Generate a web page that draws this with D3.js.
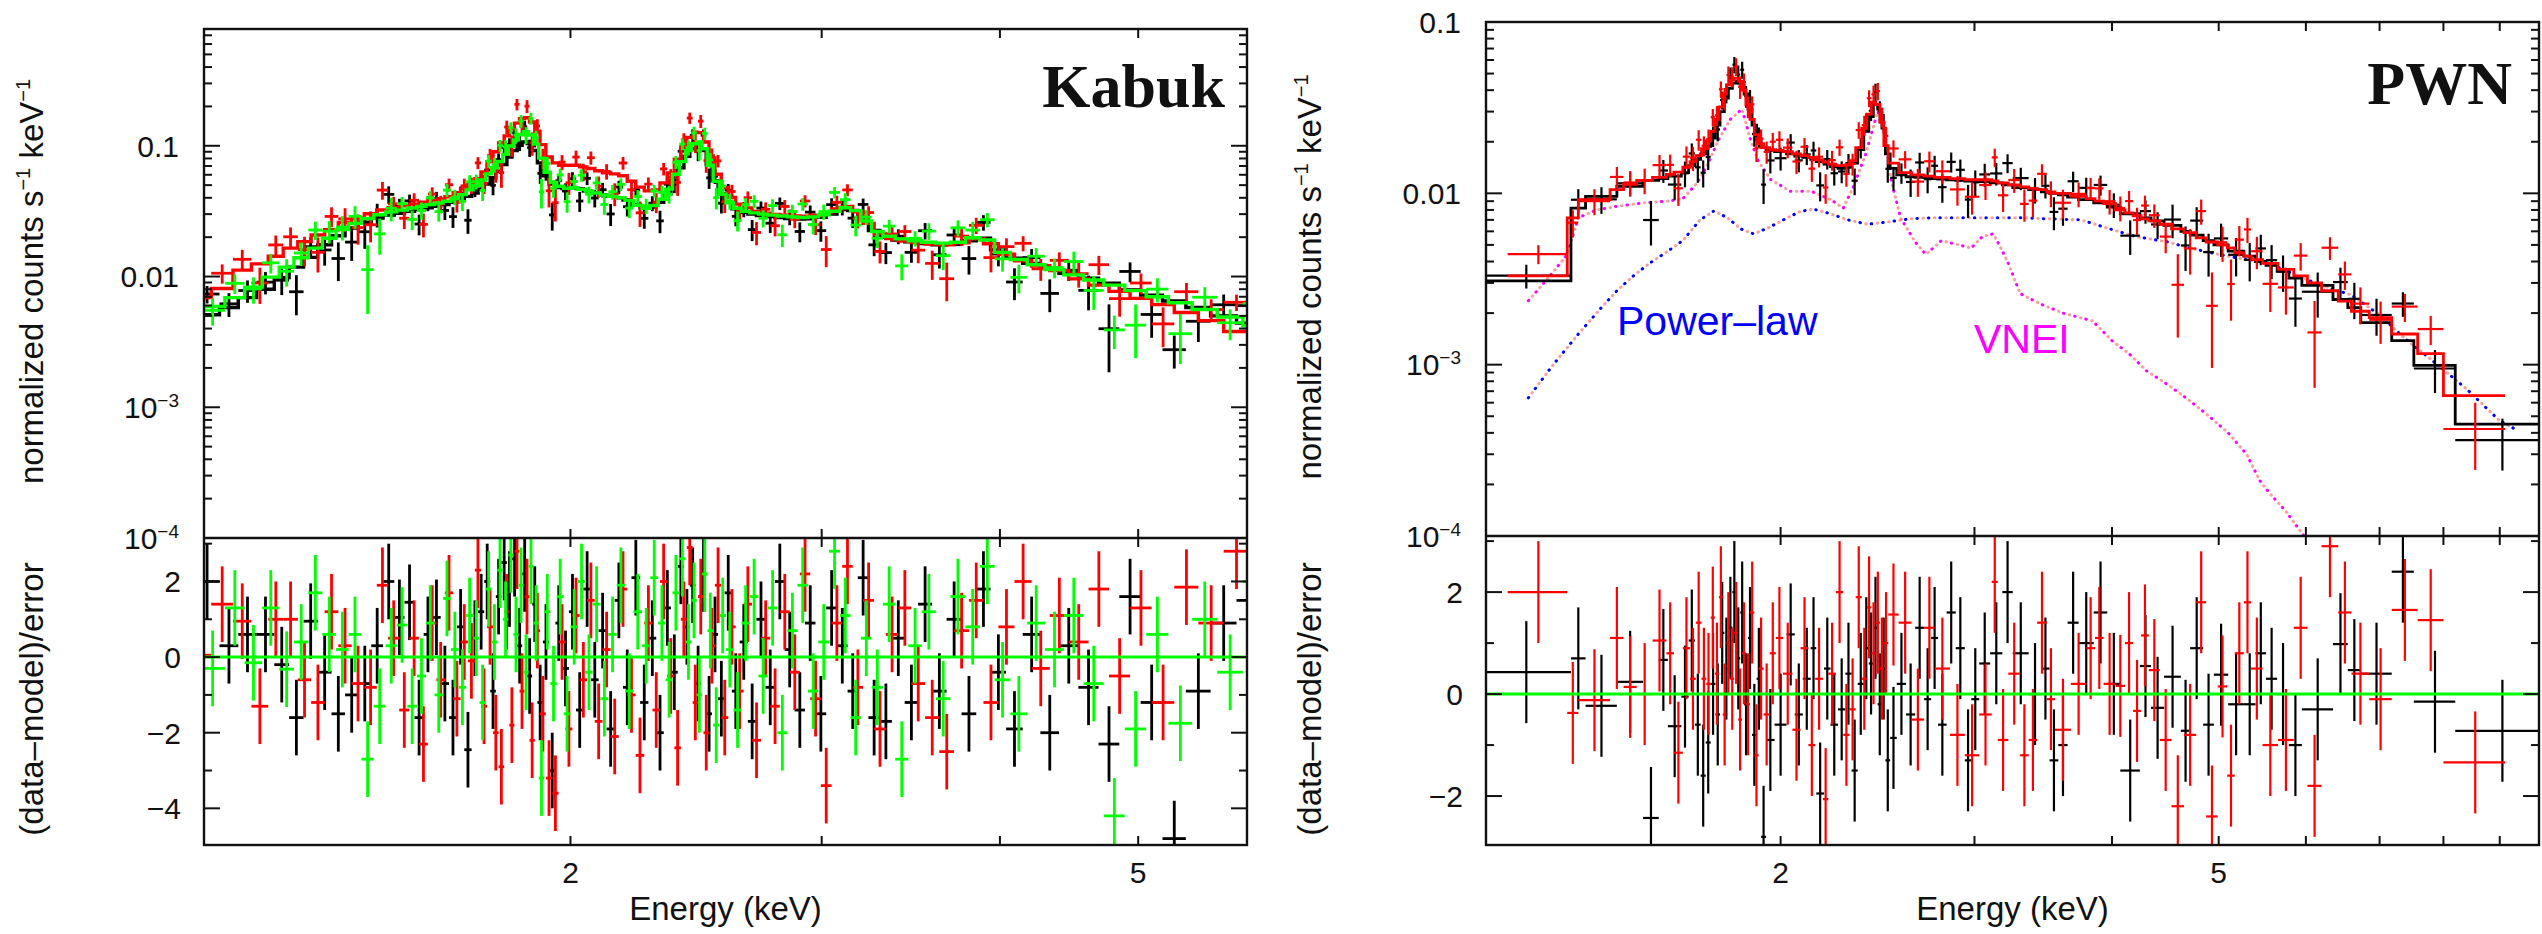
<!DOCTYPE html>
<html>
<head>
<meta charset="utf-8">
<script src="https://cdn.jsdelivr.net/npm/d3@7"></script>
<style>
  body { margin: 0; background: #fff; }
  svg { display: block; }
  text { font-family: "Liberation Sans", Arial, Helvetica, sans-serif; fill: #111; }
</style>
</head>
<body>
<svg id="chart" width="2542" height="934"></svg>
<script>
// ---- data: rows are [bin low edge keV, model (1e-3 counts/s/keV), (data-model)/error, optional rel. error]
const kabukBlack = [
  [1.090,5.1,2.0],[1.135,5.8,0.3],[1.170,6.9,0.6],[1.205,8.0,0.6],[1.240,9.8,-0.2],[1.270,11.8,-1.6],
  [1.300,14.0,0.95],[1.330,17.5,-0.4],[1.360,20.5,-1.5],[1.390,23.5,-1.0],[1.420,26.0,-0.7],[1.450,28.0,0.3],
  [1.478,29.5,2.0],[1.505,30.5,1.05],[1.530,31.5,1.45],[1.555,32.5,-1.6],[1.578,33.5,0.6],[1.600,34.5,1.05],
  [1.622,35.5,-0.7],[1.644,37.0,-1.6],[1.665,39.0,0.8],[1.685,41.0,-2.45],[1.705,43.5,0.5],[1.723,46.5,1.2],
  [1.740,51,2.0],[1.757,57,-0.9],[1.773,64,1.6],[1.789,72,2.5],[1.805,82,1.8],[1.820,92,2.6],
  [1.835,101,0.3],[1.850,107,2.2],[1.865,104,-0.5],[1.880,92,1.4],[1.896,74,-1.2],[1.913,59,0.4],
  [1.932,51,-3.0],[1.952,48,0.9],[1.973,47,-0.3],[1.995,48,1.2],[2.018,47,-1.4],[2.042,45,1.8],
  [2.067,43.5,-0.6],[2.093,42,0.7],[2.120,41,-1.9],[2.148,40,1.5],[2.177,38.5,-0.8],[2.207,35.5,2.1],
  [2.238,33.5,-1.2],[2.268,34,0.5],[2.297,37,-2.0],[2.325,43,1.3],[2.352,54,-0.4],[2.378,68,2.4],
  [2.402,83,0.8],[2.425,95,1.9],[2.447,100,-0.7],[2.468,92,2.2],[2.490,72,-1.5],[2.513,54,0.6],
  [2.538,43,-1.1],[2.565,37,1.7],[2.595,33,-0.9],[2.628,31,0.4],[2.663,30,-1.7],[2.700,29.3,1.0],
  [2.740,28.8,-0.8],[2.782,28.3,2.0],[2.826,27.8,0.2],[2.872,27.5,-1.4],[2.920,27.6,0.9],[2.970,28.4,-1.5],
  [3.022,30,1.3],[3.075,32.5,0.3],[3.128,32,-0.9],[3.180,27.5,2.1],[3.235,22.5,-1.6],[3.295,20,-1.7],
  [3.360,19,0.5],[3.430,18.4,-1.2],[3.505,17.9,1.4],[3.585,17.5,-0.9],[3.670,17.6,1.0],[3.760,18.8,-1.5],
  [3.850,19.6,1.8],[3.940,16,-0.4],[4.040,13.8,-1.9],[4.150,12.6,0.6],[4.270,11.6,-2.0],[4.400,10.6,0.3],
  [4.540,9.7,-0.8],[4.690,8.9,-2.3],[4.850,7.9,1.6],[5.020,7.2,-1.2],[5.200,6.5,-4.8,0.12],[5.400,5.8,-0.9],
  [5.620,5.0,0.9],[5.860,4.4,1.5]
];
const kabukBlackEnd = 6.10;

const kabukRed = [
  [1.080,6.9,0.05],[1.120,8.1,1.4],[1.160,11.2,0.95],[1.195,12.5,-1.3],[1.228,14.3,1.0],[1.258,16.5,1.0],
  [1.288,18.5,-0.6],[1.316,20.8,-1.2],[1.345,22.8,1.2],[1.375,25.9,0.3],[1.405,28,-0.7],[1.434,30.2,-0.8],
  [1.463,32.3,1.9],[1.490,33.6,0.5],[1.517,34.7,-1.4],[1.542,35.8,0.5],[1.566,37,-2.3],[1.589,38,0.9],
  [1.611,39.2,-0.6],[1.633,40.7,1.7],[1.655,43.7,-1.1],[1.675,46.8,0.4],[1.695,50.6,-0.1],[1.714,56,2.3],
  [1.731,63,-1.3],[1.748,75.6,0.8],[1.765,90,-2.0],[1.781,105,-2.9],[1.797,119,1.2],[1.812,135,-1.8],
  [1.827,149,2.8],[1.842,161,-0.9],[1.857,164,1.6],[1.872,152,-2.2],[1.888,129,0.7],[1.904,102,-1.5],
  [1.922,82,-3.2],[1.942,74,-3.6],[1.962,71,0.4],[1.984,71,-1.9],[2.006,71,1.1],[2.030,69,-0.6],
  [2.054,67,1.5],[2.080,64.5,-1.7],[2.106,62,0.2],[2.134,61,-2.1],[2.162,59,1.8],[2.192,53.6,-1.0],
  [2.222,48.3,-2.6],[2.253,45.2,0.9],[2.283,46,-1.4],[2.311,52,2.0],[2.338,62,-0.5],[2.365,79,-2.4],
  [2.390,97.5,1.0],[2.413,116,2.9],[2.436,127,-1.2],[2.457,126,1.6],[2.479,107,-2.0],[2.501,80.6,0.3],
  [2.525,60.6,1.9],[2.551,48,-1.6],[2.580,40.2,0.8],[2.611,35.8,-0.9],[2.645,33.5,1.4],[2.681,31.4,-2.2],
  [2.720,30.5,0.5],[2.761,29.9,-1.3],[2.804,29.4,1.2],[2.849,29.1,-0.4],[2.896,28.9,2.2],[2.945,29.4,-1.1],
  [2.996,30.7,-3.4],[3.048,32.8,0.9],[3.101,34.4,2.4],[3.154,31.2,-0.8],[3.207,25.5,1.5],[3.265,21.2,-1.9],
  [3.327,19.5,0.6],[3.395,18.7,1.3],[3.467,18.2,-0.7],[3.545,17.7,-1.6],[3.627,17.5,-2.5],[3.715,18.1,0.7],
  [3.805,19.4,1.5],[3.895,17.8,-1.2],[3.990,14.8,0.8],[4.095,13.2,2.0],[4.210,12.1,-0.3],[4.335,11.1,1.1],
  [4.470,9.6,0.4],[4.615,8.6,1.8],[4.770,7.7,-0.5],[4.935,6.8,1.3],[5.110,6.1,-1.2],[5.300,5.3,1.85],
  [5.510,4.6,0.9],[5.740,3.8,2.8]
];
const kabukRedEnd = 5.98;

const kabukGreen = [
  [1.100,5.9,-0.3],[1.145,6.9,1.3],[1.182,8.3,-0.15],[1.216,9.9,1.3],[1.250,11.8,-0.32],[1.280,13.9,0.4],
  [1.310,16.5,1.7],[1.340,19.6,0.6],[1.370,22.9,0.2],[1.398,25.5,0.6],[1.427,27.8,-2.7],[1.456,29.7,-1.3],
  [1.484,31.2,0.3],[1.511,32.2,0.85],[1.537,33.4,-1.3],[1.561,34.4,-0.5],[1.584,35.5,0.9],[1.606,36.5,-1.0],
  [1.628,37.6,1.55],[1.649,39.4,0.2],[1.670,42.3,-0.8],[1.690,46,1.1],[1.709,49.8,0.5],[1.727,54.7,-1.2],
  [1.744,61,1.8],[1.761,67.9,0.4],[1.777,75.9,2.3],[1.793,86,1.0],[1.809,99.5,2.7],[1.824,111,0.6],
  [1.839,122,1.9],[1.854,128,-0.4],[1.869,121,2.4],[1.884,103,0.9],[1.900,80.5,-3.2],[1.917,62.7,1.2],
  [1.936,52.5,-0.7],[1.956,49,1.6],[1.978,47.3,-1.5],[2.000,47.8,0.8],[2.024,46.5,2.0],[2.048,45,-0.4],
  [2.073,43.5,1.4],[2.099,42,-1.1],[2.126,41,0.6],[2.155,40,1.9],[2.184,38.2,-0.9],[2.214,35,1.2],
  [2.245,33.3,0.3],[2.275,34.9,2.1],[2.304,39,0.9],[2.332,46.6,-0.6],[2.358,60.5,1.7],[2.384,75.6,2.6],
  [2.408,91.8,0.4],[2.431,103.7,1.5],[2.452,107,-1.0],[2.473,95,2.2],[2.495,71,0.7],[2.518,53.6,-1.8],
  [2.543,42.6,1.1],[2.571,36.6,0.2],[2.602,33.3,-1.4],[2.636,31.5,0.9],[2.671,30.7,1.6],[2.709,30,-0.5],
  [2.750,29.5,1.3],[2.793,29,-2.0],[2.838,28.6,0.7],[2.885,28.3,1.9],[2.934,28.6,-0.9],[2.984,29.7,0.4],
  [3.036,31.6,2.8],[3.090,33.6,1.1],[3.143,31.9,-1.6],[3.196,26.6,0.5],[3.252,22.1,-0.8],[3.312,20.3,1.4],
  [3.378,19.4,-2.7],[3.450,18.8,0.3],[3.526,18.3,1.2],[3.607,18,-1.1],[3.693,18.3,1.6],[3.783,19.8,0.8],
  [3.873,19,2.4],[3.966,15.3,-0.6],[4.068,13.5,-1.5],[4.180,12.3,0.9],[4.302,11.3,0.2],[4.435,10.3,1.1],
  [4.578,9.4,-0.7],[4.730,8.6,-4.2,0.13],[4.893,7.8,-1.9],[5.065,7.0,0.6],[5.250,6.3,-1.75],[5.455,5.6,1.0],
  [5.680,4.9,-0.4],[5.920,4.2,2.0]
];
const kabukGreenEnd = 6.15;

const pwnBlack = [
  [1.06,3.08,0.43],[1.29,8.2,0.7],[1.33,9.6,-0.23],[1.42,11.0,0.24],[1.50,11.9,-2.43],[1.55,12.2,0.67],
  [1.58,12.6,-0.63],[1.625,13.2,-0.05],[1.65,14.5,1.05],[1.672,15.8,-0.6],[1.692,17.0,-1.6],[1.71,18.8,-0.95],
  [1.728,21,0.2],[1.745,25,-0.4],[1.762,30,1.2],[1.778,36,0.5],[1.793,41,1.3],[1.808,44,2.0],
  [1.823,45,0.7],[1.838,43,1.6],[1.853,38,-0.2],[1.868,31,1.1],[1.884,25,-0.8],[1.902,20.5,0.3],
  [1.92,18.5,-2.8],[1.94,17.8,-0.9],[1.975,17.5,-0.6],[2.025,17.0,1.17],[2.06,16.5,-0.4],[2.095,16.2,0.3],
  [2.13,15.8,0.9],[2.155,15.3,-1.95],[2.19,14.8,0.5],[2.22,14.3,-0.6],[2.255,14.0,-0.3],[2.29,14.2,0.4],
  [2.32,15.0,-1.5],[2.35,18,0.2],[2.38,23,0.9],[2.405,28,0.6],[2.428,33,1.3],[2.45,31,-0.2],
  [2.472,24,0.5],[2.49,17,-1.3],[2.515,14,-0.86],[2.55,12.8,0.2],[2.60,12.5,-0.4],[2.65,12.4,1.3],
  [2.70,12.3,-0.1],[2.74,12.2,1.1],[2.78,12.1,-0.6],[2.83,12.0,1.6],[2.885,11.9,0.9],[2.94,11.8,-1.3],
  [2.98,11.8,-0.1],[3.03,11.7,0.6],[3.10,11.5,0.8],[3.18,11.2,2.0],[3.25,10.8,0.8],[3.36,10.5,0],
  [3.45,10.2,0.5],[3.51,10.0,-1.3],[3.575,9.8,-1.0],[3.645,9.5,1.4],[3.73,9.2,1.0],[3.85,8.8,1.6],
  [3.96,8.3,0.2],[4.07,7.6,-1.5],[4.24,7.2,0.55],[4.34,6.9,-0.27],[4.46,6.5,0.34],[4.62,6.0,-0.72],
  [4.71,5.7,0.9],[4.84,5.3,-0.6],[4.95,5.0,0.38],[5.10,4.6,-0.2],[5.27,4.3,-0.2],[5.40,4.0,0.8],
  [5.52,3.8,0.3],[5.65,3.5,0],[5.79,3.2,-1.0],[5.95,2.9,-0.3],[6.35,2.4,0.98],[6.55,2.15,0.47],
  [6.73,1.76,0.4],[7.18,1.38,2.4],[7.52,0.99,-0.15],[8.2,0.45,-0.72]
];
const pwnBlackEnd = 9.9;

const pwnRed = [
  [1.13,3.3,2.0],[1.28,7.2,-0.37],[1.31,9.2,-0.12],[1.40,10.5,1.1],[1.44,11.3,0.14],[1.48,11.9,0.0],
  [1.53,12.4,1.05],[1.575,12.9,0.8],[1.60,13.3,-1.15],[1.63,14.2,0.9],[1.655,15.3,0.3],[1.675,16.6,1.4],
  [1.695,18.2,0.3],[1.712,20.2,0.2],[1.728,23,1.5],[1.743,27,0.4],[1.758,32,1.9],[1.772,38,-0.4],
  [1.786,43,1.0],[1.80,46,0.3],[1.815,47,1.2],[1.83,45,-0.5],[1.845,40,0.8],[1.86,33,-0.2],
  [1.876,27,1.6],[1.893,22,-1.2],[1.91,19.5,0.5],[1.93,18.5,-0.4],[1.955,18,0.8],[1.98,17.8,1.1],
  [2.01,17.5,0.4],[2.05,17,-0.7],[2.085,16.6,0.9],[2.12,16.2,-1.0],[2.15,15.7,0.3],[2.185,15.2,-2.06],
  [2.21,14.8,0.4],[2.245,14.5,2.0],[2.28,14.6,-0.8],[2.31,15.5,-0.3],[2.34,18.5,1.9],[2.37,24,0.3],
  [2.395,29,1.7],[2.418,34,0.8],[2.44,33,1.4],[2.462,26,0.5],[2.482,19,1.0],[2.505,15,1.56],
  [2.56,13.2,1.4],[2.63,12.8,-0.5],[2.70,12.6,1.3],[2.76,12.4,0.5],[2.85,12.2,-0.8],[2.94,12.0,-1.2],
  [3.03,12.0,-0.4],[3.11,11.8,2.2],[3.15,11.5,-0.9],[3.22,11.2,0.4],[3.30,10.9,-1.2],[3.36,10.7,-0.9],
  [3.42,10.5,1.4],[3.49,10.2,-0.1],[3.55,10.0,-0.7],[3.67,9.6,0.2],[3.79,9.3,0.9],[3.86,9.0,1.1],
  [3.93,8.7,0.2],[4.03,8.0,0.16],[4.11,7.7,1.0],[4.18,7.4,-0.33],[4.25,7.1,1.15],[4.32,6.9,0.47],
  [4.42,6.6,-0.9],[4.53,6.2,-2.2],[4.65,5.9,-0.8],[4.77,5.5,1.8],[4.87,5.2,-2.4],[4.99,5.0,0.15],
  [5.09,4.8,-1.6],[5.17,4.5,0.8],[5.27,4.3,1.8],[5.35,4.1,0.5],[5.48,3.9,-1.0],[5.66,3.6,-0.9],
  [5.85,3.3,1.3],[6.02,3.0,-1.8],[6.20,2.7,2.9],[6.42,2.35,1.6],[6.60,2.05,0.4],[6.85,1.88,-0.1],
  [7.18,1.51,1.65],[7.58,1.16,1.45],[8.0,0.66,-1.34]
];
const pwnRedEnd = 9.1;

// model components of the PWN fit: [keV, 1e-3 counts/s/keV]
const pwnPowerlaw = [
  [1.18,0.64],[1.24,0.98],[1.31,1.51],[1.37,2.1],[1.42,2.7],[1.47,3.3],[1.52,3.9],[1.58,4.6],[1.63,5.3],
  [1.69,7.0],[1.74,7.9],[1.79,7.2],[1.84,6.2],[1.89,5.8],[1.95,6.3],[2.02,7.1],[2.08,7.8],[2.14,8.1],
  [2.22,7.6],[2.30,7.0],[2.40,6.6],[2.50,6.8],[2.62,7.1],[2.75,7.2],[2.90,7.2],[3.10,7.2],[3.30,7.2],
  [3.50,7.1],[3.75,7.0],[3.95,6.3],[4.20,5.6],[4.50,5.2],[4.70,4.8],[5.00,4.4],[5.30,4.1],[5.56,3.9],
  [5.90,3.3],[6.20,2.9],[6.60,2.55],[7.00,1.95],[7.40,1.4],[7.90,1.0],[8.40,0.72],[9.00,0.47],[9.30,0.42]
];
const pwnVnei = [
  [1.18,2.36],[1.23,3.2],[1.28,4.4],[1.31,7.2],[1.36,8.0],[1.42,8.4],[1.50,8.8],[1.58,9.0],[1.63,9.3],
  [1.68,11.5],[1.71,14.0],[1.76,21],[1.80,27],[1.845,31],[1.88,20],[1.91,15.3],[1.96,12],[2.04,10.3],
  [2.13,10.3],[2.22,9.2],[2.28,8.2],[2.33,11],[2.39,17],[2.45,30],[2.48,26],[2.52,12],[2.57,7.2],
  [2.65,5.2],[2.71,4.4],[2.80,5.3],[2.90,5.0],[2.98,4.8],[3.05,5.6],[3.12,5.8],[3.16,5.0],[3.22,3.9],
  [3.30,2.6],[3.45,2.25],[3.61,2.0],[3.84,1.8],[3.93,1.55],[4.00,1.38],[4.15,1.15],[4.30,0.92],[4.50,0.76],
  [4.70,0.62],[4.90,0.50],[5.10,0.40],[5.30,0.30],[5.45,0.21],[5.56,0.178],[5.75,0.14],[5.95,0.104],[6.05,0.09]
];

// typical relative error of a spectral bin: [upper energy of band, rel. error]
const kabukRelErr = [[1.5,0.22],[3.5,0.14],[4.5,0.18],[99,0.24]];
const pwnRelErr = [[1.7,0.17],[2.6,0.14],[4.5,0.17],[6,0.24],[99,0.27]];

// ticks
const kabukXTicks = [2, 3, 4, 5];
const pwnXTicks = [2, 3, 4, 5, 6, 7, 8, 9];
const xTickLabels = [2, 5];
const fluxTickLabels = [[0.1, '0.1', ''], [0.01, '0.01', ''], [1e-3, '10', '\u22123'], [1e-4, '10', '\u22124']];
const kabukResTicks = [-4, -3, -2, -1, 0, 1, 2, 3];
const kabukResLabels = [-4, -2, 0, 2];
const pwnResTicks = [-2, -1, 0, 1, 2, 3];
const pwnResLabels = [-2, 0, 2];

const svg = d3.select('#chart');
svg.append('rect').attr('width', 2542).attr('height', 934).attr('fill', '#fff');

function makeBins(rows, end, bands) {
  return rows.map((r, i) => {
    const lo = r[0];
    const hi = i < rows.length - 1 ? rows[i + 1][0] : end;
    const mid = (lo + hi) / 2;
    const model = r[1] * 1e-3;
    const rel = r[3] !== undefined ? r[3] : bands.find(b => mid < b[0])[1];
    const err = model * rel;
    return { lo, hi, mid, model, resid: r[2], err, data: model + r[2] * err };
  });
}

let clipId = 0;
function clipped(g, x, y, w, h) {
  const id = 'clip' + (clipId++);
  svg.append('clipPath').attr('id', id).append('rect').attr('x', x).attr('y', y).attr('width', w).attr('height', h);
  return g.append('g').attr('clip-path', `url(#${id})`);
}

function drawPanel(p) {
  const g = svg.append('g');
  const x = d3.scaleLog().domain(p.xDomain).range([p.left, p.right]);
  const y = d3.scaleLog().domain(p.yDomain).range([p.mid, p.top]);
  const yr = d3.scaleLinear().domain(p.rDomain).range([p.bottom, p.mid]);
  const w = p.right - p.left;

  const up = clipped(g, p.left, p.top, w, p.mid - p.top);
  const low = clipped(g, p.left, p.mid, w, p.bottom - p.mid);

  // model components (dotted)
  (p.components || []).forEach(c => {
    const line = d3.line().x(d => x(d[0])).y(d => y(d[1] * 1e-3));
    up.append('path').attr('d', line(c.values)).attr('fill', 'none')
      .attr('stroke', '#ff4d4d').attr('stroke-opacity', 0.55).attr('stroke-width', 3)
      .attr('stroke-linecap', 'round').attr('stroke-dasharray', '0.5,11').attr('stroke-dashoffset', -6);
    up.append('path').attr('d', line(c.values)).attr('fill', 'none')
      .attr('stroke', c.color).attr('stroke-width', 3)
      .attr('stroke-linecap', 'round').attr('stroke-dasharray', '0.5,11');
  });

  p.sets.forEach(s => {
    const bins = makeBins(s.rows, s.end, p.bands);
    const floor = p.yDomain[0] * 0.5;
    // spectrum crosses
    const cu = up.append('g').attr('stroke', s.color).attr('stroke-width', p.barWidth);
    bins.forEach(b => {
      const yd = y(Math.max(b.data, floor));
      cu.append('line').attr('x1', x(b.lo)).attr('x2', x(b.hi)).attr('y1', yd).attr('y2', yd);
      cu.append('line').attr('x1', x(b.mid)).attr('x2', x(b.mid))
        .attr('y1', y(Math.max(b.data - b.err, floor))).attr('y2', y(b.data + b.err));
    });
    // folded model as histogram
    const steps = [];
    bins.forEach(b => { steps.push([b.lo, b.model]); steps.push([b.hi, b.model]); });
    up.append('path').attr('fill', 'none').attr('stroke', s.color).attr('stroke-width', p.barWidth + 0.6)
      .attr('d', d3.line().x(d => x(d[0])).y(d => y(d[1]))(steps));
    // residual crosses
    const cl = low.append('g').attr('stroke', s.color).attr('stroke-width', p.barWidth);
    bins.forEach(b => {
      cl.append('line').attr('x1', x(b.lo)).attr('x2', x(b.hi)).attr('y1', yr(b.resid)).attr('y2', yr(b.resid));
      cl.append('line').attr('x1', x(b.mid)).attr('x2', x(b.mid))
        .attr('y1', yr(b.resid - 1)).attr('y2', yr(b.resid + 1));
    });
  });

  // zero line
  low.append('line').attr('x1', p.left).attr('x2', p.right).attr('y1', yr(0)).attr('y2', yr(0))
    .attr('stroke', '#00ff00').attr('stroke-width', 3);

  // frames
  const ax = g.append('g').attr('stroke', '#111').attr('fill', 'none');
  ax.append('rect').attr('x', p.left).attr('y', p.top).attr('width', w).attr('height', p.bottom - p.top).attr('stroke-width', 2.4);
  ax.append('line').attr('x1', p.left).attr('x2', p.right).attr('y1', p.mid).attr('y2', p.mid).attr('stroke-width', 2.4);

  // x ticks, inward on every horizontal edge
  p.xTicks.forEach(v => {
    const xv = x(v);
    [[p.top, 1], [p.mid, -1], [p.mid, 1], [p.bottom, -1]].forEach(([yy, d]) => {
      ax.append('line').attr('x1', xv).attr('x2', xv).attr('y1', yy).attr('y2', yy + d * 9).attr('stroke-width', 2);
    });
  });
  // y ticks upper (log)
  y.ticks().forEach(v => {
    const e = Math.log10(v);
    const major = Math.abs(e - Math.round(e)) < 1e-6;
    const len = major ? 16 : 8;
    const yy = y(v);
    if (yy < p.top - 0.5) return;
    ax.append('line').attr('x1', p.left).attr('x2', p.left + len).attr('y1', yy).attr('y2', yy).attr('stroke-width', 2);
    ax.append('line').attr('x1', p.right).attr('x2', p.right - len).attr('y1', yy).attr('y2', yy).attr('stroke-width', 2);
  });
  // y ticks lower
  p.resTicks.forEach(v => {
    const len = v % 2 === 0 ? 16 : 8;
    const yy = yr(v);
    ax.append('line').attr('x1', p.left).attr('x2', p.left + len).attr('y1', yy).attr('y2', yy).attr('stroke-width', 2);
    ax.append('line').attr('x1', p.right).attr('x2', p.right - len).attr('y1', yy).attr('y2', yy).attr('stroke-width', 2);
  });

  // tick labels
  const fs = 30;
  const lx = p.left - 25;
  fluxTickLabels.forEach(([v, base, sup]) => {
    const t = g.append('text').attr('x', lx).attr('y', y(v) + fs * 0.36).attr('text-anchor', 'end').style('font-size', fs + 'px');
    t.append('tspan').text(base);
    if (sup) t.append('tspan').attr('dy', -11).style('font-size', '19px').text(sup);
  });
  p.resLabels.forEach(v => {
    g.append('text').attr('x', lx + 2).attr('y', yr(v) + fs * 0.36).attr('text-anchor', 'end')
      .style('font-size', fs + 'px').text(v < 0 ? '\u2212' + (-v) : String(v));
  });
  xTickLabels.forEach(v => {
    g.append('text').attr('x', x(v)).attr('y', 883).attr('text-anchor', 'middle').style('font-size', fs + 'px').text(v);
  });

  // axis titles
  g.append('text').attr('x', (p.left + p.right) / 2).attr('y', 920).attr('text-anchor', 'middle')
    .style('font-size', '33px').text('Energy (keV)');
  const t1 = g.append('text').attr('transform', `translate(${p.titleX},${(p.top + p.mid) / 2 - 2}) rotate(-90)`)
    .attr('text-anchor', 'middle').style('font-size', '33px');
  t1.append('tspan').text('normalized counts s');
  t1.append('tspan').attr('dy', -13).style('font-size', '20px').text('\u22121');
  t1.append('tspan').attr('dy', 13).text(' keV');
  t1.append('tspan').attr('dy', -13).style('font-size', '20px').text('\u22121');
  g.append('text').attr('transform', `translate(${p.titleX},699) rotate(-90)`)
    .attr('text-anchor', 'middle').style('font-size', '33px').text('(data\u2013model)/error');

  // panel name
  g.append('text').attr('x', p.nameX).attr('y', p.nameY).attr('text-anchor', 'end')
    .style('font-family', '"Liberation Serif", "Times New Roman", serif').style('font-weight', 'bold')
    .style('font-size', '62px').text(p.name);

  (p.notes || []).forEach(n => {
    g.append('text').attr('x', n.x).attr('y', n.y).style('font-size', '41px').style('fill', n.color).text(n.text);
  });
}

drawPanel({
  name: 'Kabuk', nameX: 1225, nameY: 107,
  left: 204, right: 1247, top: 29, mid: 538, bottom: 845, titleX: 43,
  xDomain: [1.107, 5.96], yDomain: [1e-4, 0.782], rDomain: [-4.97, 3.15],
  xTicks: kabukXTicks, resTicks: kabukResTicks, resLabels: kabukResLabels,
  bands: kabukRelErr, barWidth: 2.8,
  sets: [
    { rows: kabukBlack, end: kabukBlackEnd, color: '#000000' },
    { rows: kabukRed, end: kabukRedEnd, color: '#ff0000' },
    { rows: kabukGreen, end: kabukGreenEnd, color: '#00ff00' }
  ]
});

drawPanel({
  name: 'PWN', nameX: 2512, nameY: 104,
  left: 1486, right: 2539, top: 22, mid: 536, bottom: 845, titleX: 1321,
  xDomain: [1.08, 9.77], yDomain: [1e-4, 0.1], rDomain: [-2.96, 3.1],
  xTicks: pwnXTicks, resTicks: pwnResTicks, resLabels: pwnResLabels,
  bands: pwnRelErr, barWidth: 2.2,
  components: [
    { values: pwnPowerlaw, color: '#0000ff' },
    { values: pwnVnei, color: '#ff00ff' }
  ],
  notes: [
    { text: 'Power\u2013law', x: 1617, y: 335, color: '#0000ff' },
    { text: 'VNEI', x: 1974, y: 353, color: '#ff00ff' }
  ],
  sets: [
    { rows: pwnBlack, end: pwnBlackEnd, color: '#000000' },
    { rows: pwnRed, end: pwnRedEnd, color: '#ff0000' }
  ]
});
</script>
</body>
</html>
